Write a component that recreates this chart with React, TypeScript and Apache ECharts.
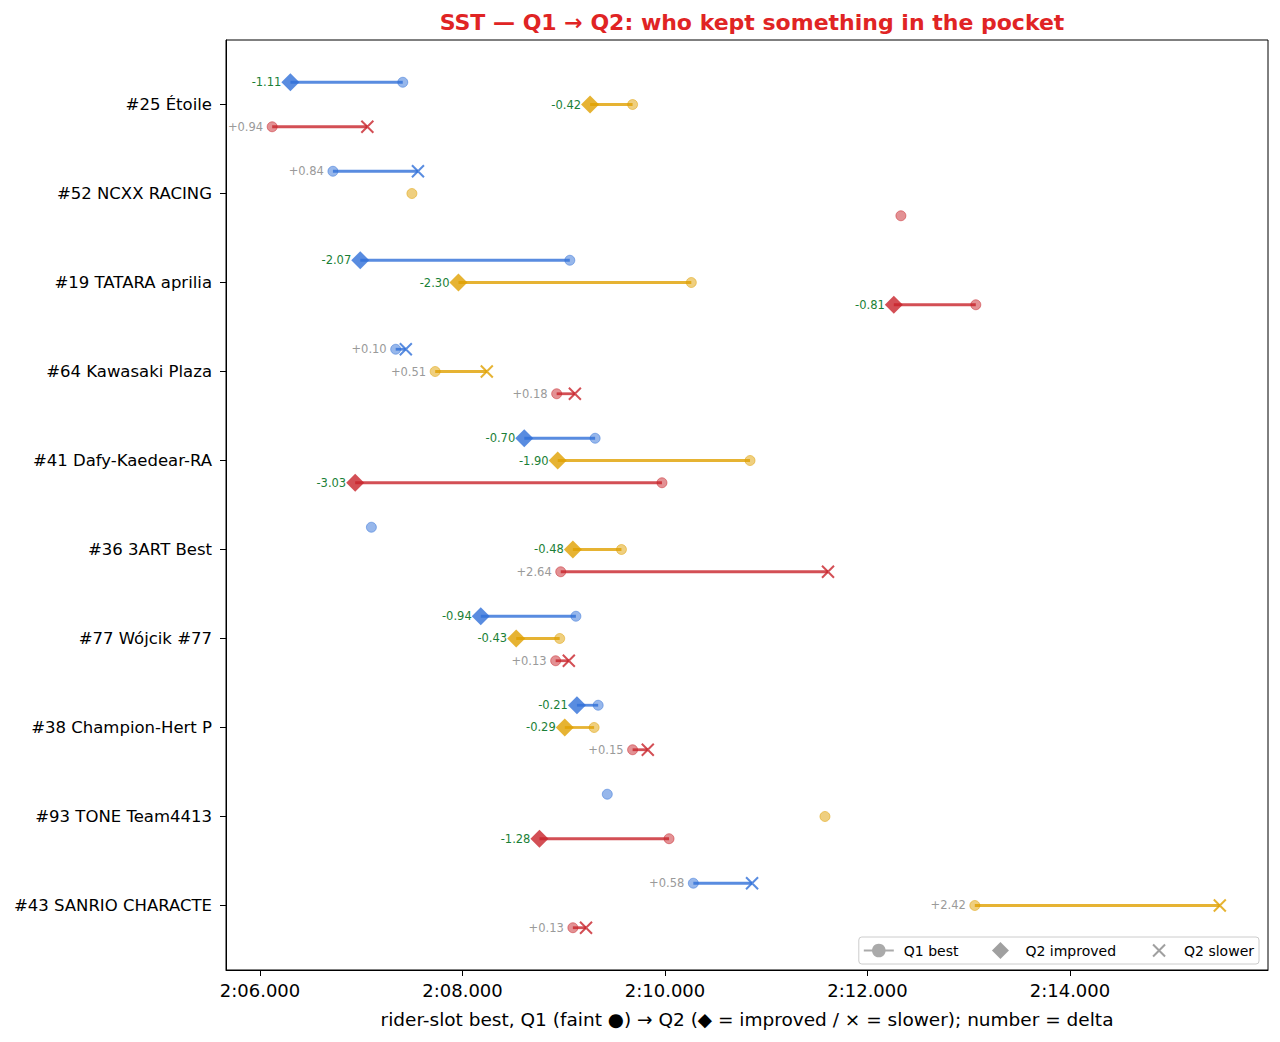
import React, { useEffect, useRef } from "react";
import * as echarts from "echarts";

const teams = [
  "#25 Étoile",
  "#52 NCXX RACING",
  "#19 TATARA aprilia",
  "#64 Kawasaki Plaza",
  "#41 Dafy-Kaedear-RA",
  "#36 3ART Best",
  "#77 Wójcik #77",
  "#38 Champion-Hert P",
  "#93 TONE Team4413",
  "#43 SANRIO CHARACTE",
];

const blueQ1 = [127.41, 126.72, 129.06, 127.34, 129.31, 127.1, 129.12, 129.34, 129.43, 130.28];
const blueDelta = [-1.11, 0.84, -2.07, 0.1, -0.7, null, -0.94, -0.21, null, 0.58];
const yellowQ1 = [129.68, 127.5, 130.26, 127.73, 130.84, 129.57, 128.96, 129.3, 131.58, 133.06];
const yellowDelta = [-0.42, null, -2.3, 0.51, -1.9, -0.48, -0.43, -0.29, null, 2.42];
const redQ1 = [126.12, 132.33, 133.07, 128.93, 129.97, 128.97, 128.92, 129.68, 130.04, 129.09];
const redDelta = [0.94, null, -0.81, 0.18, -3.03, 2.64, 0.13, 0.15, -1.28, 0.13];

const xTicks = [126, 128, 130, 132, 134];

const FONT = "'DejaVu Sans', 'Noto Sans CJK JP', sans-serif";

const slots = [
  { name: "blue", color: "#2f6fd8", q1: blueQ1, delta: blueDelta, off: -0.25 },
  { name: "yellow", color: "#e0a000", q1: yellowQ1, delta: yellowDelta, off: 0 },
  { name: "red", color: "#c8232a", q1: redQ1, delta: redDelta, off: 0.25 },
];

const X_PATH = "path://M0,0L10,10M10,0L0,10";
const LEG_DIAMOND = "path://M0,0M30,17M15,0L23.5,8.5L15,17L6.5,8.5Z";
const LEG_X = "path://M0,0M30,17M9,2.5L21,14.5M21,2.5L9,14.5";

function fmtTime(v: number) {
  const m = Math.floor(v / 60);
  const s = v - m * 60;
  const ss = s.toFixed(3).padStart(6, "0");
  return `${m}:${ss}`;
}

export default function App() {
  const ref = useRef<HTMLDivElement>(null);
  useEffect(() => {
    document.body.style.margin = "0";
    const chart = echarts.init(ref.current!, null, { renderer: "svg" });
    const series: any[] = [];
    slots.forEach((sl) => {
      const segs: any[] = [];
      const q1pts: any[] = [];
      const imp: any[] = [];
      const slow: any[] = [];
      const labels: any[] = [];
      sl.q1.forEach((q1, i) => {
        const y = i + sl.off;
        q1pts.push([q1, y]);
        const d = sl.delta[i];
        if (d !== null && d !== undefined) {
          const q2 = +(q1 + d).toFixed(3);
          segs.push([q1, q2, y]);
          if (d < 0) imp.push([q2, y]);
          else slow.push([q2, y]);
          labels.push([Math.min(q1, q2), y, d]);
        }
      });
      series.push({
        type: "custom",
        name: sl.name + "-seg",
        data: segs,
        z: 2,
        renderItem: (params: any, api: any) => {
          const a = api.coord([api.value(0), api.value(2)]);
          const b = api.coord([api.value(1), api.value(2)]);
          return {
            type: "line",
            shape: { x1: a[0], y1: a[1], x2: b[0], y2: b[1] },
            style: { stroke: sl.color, lineWidth: 2.8, opacity: 0.8 },
          };
        },
      });
      series.push({
        type: "scatter",
        name: sl.name + "-q1",
        data: q1pts,
        symbol: "circle",
        symbolSize: 10,
        z: 3,
        itemStyle: { color: sl.color, opacity: 0.5, borderColor: sl.color, borderWidth: 1 },
      });
      series.push({
        type: "scatter",
        name: sl.name + "-imp",
        data: imp,
        symbol: "diamond",
        symbolSize: [18, 18],
        z: 4,
        itemStyle: { color: sl.color },
      });
      series.push({
        type: "scatter",
        name: sl.name + "-slow",
        data: slow,
        symbol: X_PATH,
        symbolSize: 12,
        z: 4,
        itemStyle: { color: "rgba(0,0,0,0)", borderColor: sl.color, borderWidth: 2 },
      });
      series.push({
        type: "custom",
        name: sl.name + "-lbl",
        data: labels,
        z: 5,
        renderItem: (params: any, api: any) => {
          const p = api.coord([api.value(0), api.value(1)]);
          const d = api.value(2);
          const txt = (d > 0 ? "+" : "") + d.toFixed(2);
          return {
            type: "text",
            x: p[0] - 9,
            y: p[1],
            style: {
              text: txt,
              fill: d < 0 ? "#1b7f37" : "#9a9a9a",
              fontSize: 11.5,
              fontFamily: FONT,
              align: "right",
              verticalAlign: "middle",
            },
          };
        },
      });
    });
    // legend dummies
    series.push({
      type: "line",
      name: "Q1 best",
      data: [],
      symbol: "circle",
      symbolSize: 10,
      lineStyle: { color: "#aaa", width: 2.8 },
      itemStyle: { color: "#aaa" },
    });
    series.push({
      type: "scatter",
      name: "Q2 improved",
      data: [],
      symbol: "diamond",
      itemStyle: { color: "#888" },
    });
    series.push({
      type: "scatter",
      name: "Q2 slower",
      data: [],
      symbol: X_PATH,
      itemStyle: { color: "rgba(0,0,0,0)", borderColor: "#888", borderWidth: 1.5 },
    });

    chart.setOption({
      animation: false,
      backgroundColor: "#fff",
      textStyle: { fontFamily: FONT },
      title: {
        text: "SST — Q1 → Q2: who kept something in the pocket",
        left: 747,
        top: 6,
        textAlign: "center",
        textStyle: { color: "#e02424", fontSize: 22, fontWeight: "bold", fontFamily: FONT },
      },
      grid: {
        left: 226,
        right: 12,
        top: 40,
        bottom: 72,
        show: true,
        borderColor: "#000",
        borderWidth: 1,
        backgroundColor: "transparent",
      },
      legend: {
        data: [
          { name: "Q1 best" },
          { name: "Q2 improved", icon: LEG_DIAMOND },
          { name: "Q2 slower", icon: LEG_X },
        ],
        right: 21,
        bottom: 78,
        orient: "horizontal",
        backgroundColor: "rgba(255,255,255,0.8)",
        borderColor: "#ccc",
        borderWidth: 1,
        borderRadius: 3,
        padding: [4, 5, 4, 4],
        itemGap: 27,
        itemWidth: 30,
        itemHeight: 17,
        textStyle: { fontSize: 14, color: "#000", fontFamily: FONT, padding: [0, 0, 0, 5] },
      },
      xAxis: {
        type: "value",
        min: 125.664,
        max: 135.956,
        splitLine: { show: false },
        axisLine: { show: true, onZero: false, lineStyle: { color: "#000" } },
        axisTick: { show: true, length: 6, lineStyle: { color: "#000" }, customValues: xTicks },
        axisLabel: {
          customValues: xTicks,
          formatter: (v: number) => fmtTime(v),
          color: "#000",
          fontSize: 18,
          margin: 11,
          fontFamily: FONT,
        },
        name: "rider-slot best, Q1 (faint ●) → Q2 (◆ = improved / × = slower); number = delta",
        nameLocation: "middle",
        nameGap: 40,
        nameTextStyle: { fontSize: 18.5, color: "#000", fontFamily: FONT },
      },
      yAxis: {
        type: "value",
        inverse: true,
        min: -0.725,
        max: 9.725,
        splitLine: { show: false },
        axisLine: { show: true, onZero: false, lineStyle: { color: "#000" } },
        axisTick: {
          show: true,
          length: 6,
          lineStyle: { color: "#000" },
          customValues: teams.map((_, i) => i),
        },
        axisLabel: {
          customValues: teams.map((_, i) => i),
          formatter: (v: number) => teams[Math.round(v)] ?? "",
          color: "#000",
          fontSize: 16.5,
          margin: 14,
          fontFamily: FONT,
        },
      },
      series,
    });
    return () => chart.dispose();
  }, []);
  return <div ref={ref} style={{ width: 1280, height: 1042 }} />;
}
